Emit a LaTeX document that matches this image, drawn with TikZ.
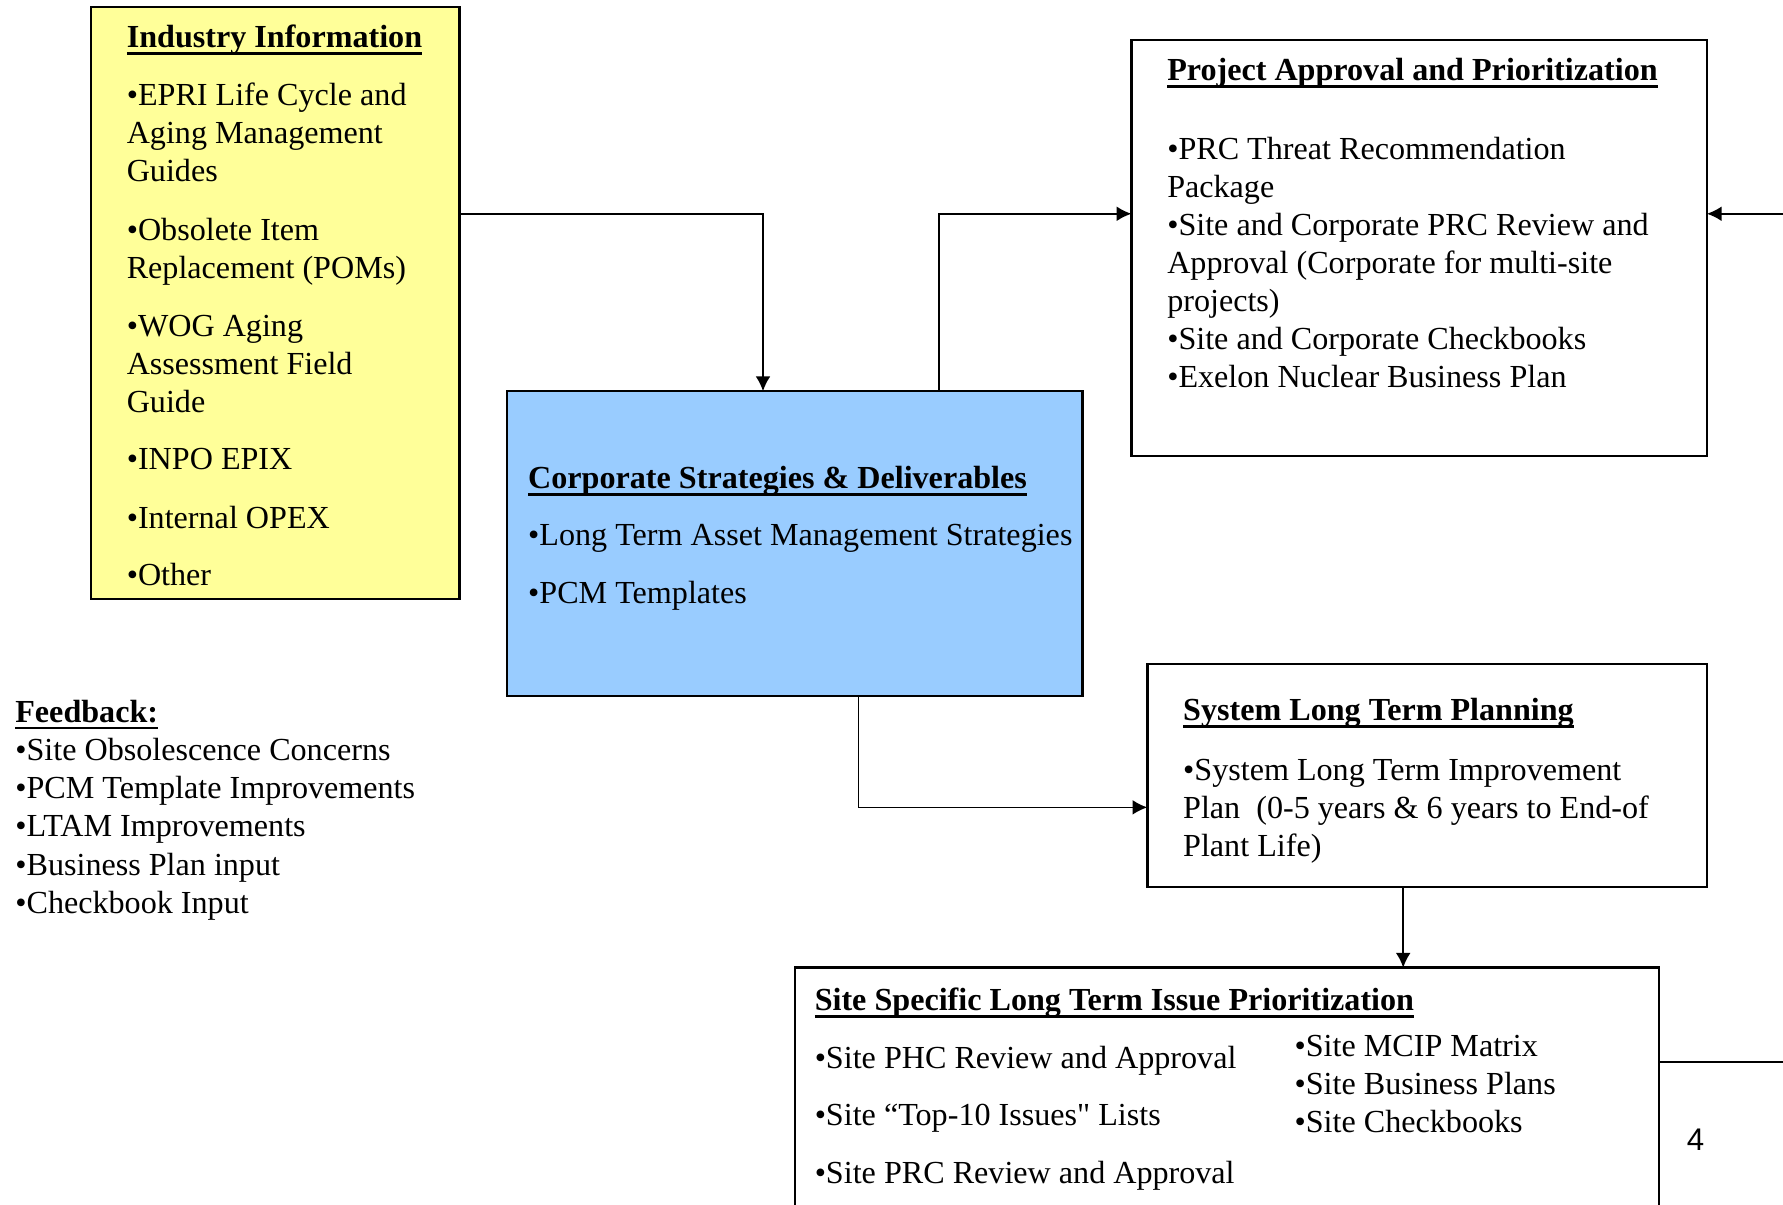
\documentclass[tikz,border=0pt]{standalone}
\usepackage{fontspec}
\setmainfont{Liberation Serif}[Ligatures=TeXOff]
\newfontfamily\pagefont{Liberation Sans}
\usepackage{tikz}
\usetikzlibrary{arrows.meta, positioning}

\definecolor{infoyellow}{HTML}{FFFF99}
\definecolor{corpblue}{HTML}{99CCFF}

% bold heading with a heavy underline
\newcommand{\headline}[1]{\setbox0\hbox{\textbf{#1}}\rlap{\rule[-2.4pt]{\wd0}{1pt}}\box0}

\begin{document}
\begin{tikzpicture}[
    x=0.4pt, y=-0.4pt,
    % Styles for boxes and text (multi-line text sits on its last baseline)
    box/.style={draw=black, line width=0.85pt, inner sep=0pt, outer sep=0pt},
    txt/.style={anchor=base west, align=left, inner sep=0pt,
        font=\fontsize{11.3}{13.4}\selectfont},
    link/.style={line width=0.6pt, draw=black},
    arrow/.style={link, -{Latex[length=5.2pt,width=5.2pt]}}
]
    \clip (0,0) rectangle (1568,1059);

    % --- Boxes ---
    \node[box, fill=infoyellow, minimum width=129.6pt, minimum height=208.4pt] (info) at (242,266.5) {};
    \node[box, fill=corpblue, minimum width=202.4pt, minimum height=107.2pt] (corp) at (699,478) {};
    \node[box, fill=white, minimum width=202.4pt, minimum height=146.4pt] (proj) at (1248,218) {};
    \node[box, fill=white, minimum width=196.8pt, minimum height=78.4pt] (sys) at (1255,682) {};
    \node[box, fill=white, minimum width=304pt, minimum height=99.6pt] (site) at (1079,975.5) {};

    % --- Industry Information ---
    \node[txt] (infot) at (111,42) {\headline{Industry Information}};
    \node[txt] (info1) at (111,160) {•EPRI Life Cycle and\\Aging Management\\Guides};
    \node[txt] (info2) at (111,245) {•Obsolete Item\\Replacement (POMs)};
    \node[txt] (info3) at (111,363) {•WOG Aging\\Assessment Field\\Guide};
    \node[txt] (info4) at (111,413) {•INPO EPIX};
    \node[txt] (info5) at (111,465) {•Internal OPEX};
    \node[txt] (info6) at (111,515) {•Other};

    % --- Corporate Strategies ---
    \node[txt] (corpt) at (464,430) {\headline{Corporate Strategies \& Deliverables}};
    \node[txt] (corp1) at (464,480) {•Long Term Asset Management Strategies};
    \node[txt] (corp2) at (464,531) {•PCM Templates};

    % --- Project Approval ---
    \node[txt] (projt) at (1026,71) {\headline{Project Approval and Prioritization}};
    \node[txt] (proj1) at (1026,341) {•PRC Threat Recommendation\\Package\\•Site and Corporate PRC Review and\\Approval (Corporate for multi-site\\projects)\\•Site and Corporate Checkbooks\\•Exelon Nuclear Business Plan};

    % --- System Long Term Planning ---
    \node[txt] (syst) at (1040,634) {\headline{System Long Term Planning}};
    \node[txt] (sys1) at (1040,753) {•System Long Term Improvement\\Plan\ \ (0-5 years \& 6 years to End-of\\Plant Life)};

    % --- Site Specific ---
    \node[txt] (sitet) at (716,889) {\headline{Site Specific Long Term Issue Prioritization}};
    \node[txt] (site1) at (716,940) {•Site PHC Review and Approval};
    \node[txt] (site2) at (716,990) {•Site “Top-10 Issues" Lists};
    \node[txt] (site3) at (716,1041) {•Site PRC Review and Approval};
    \node[txt] (site4) at (1138,996) {•Site MCIP Matrix\\•Site Business Plans\\•Site Checkbooks};

    % --- Feedback ---
    \node[txt] (fb) at (13,803) {\headline{Feedback:}\\•Site Obsolescence Concerns\\•PCM Template Improvements\\•LTAM Improvements\\•Business Plan input\\•Checkbook Input};

    % page number
    \node[txt, font=\pagefont\fontsize{11}{13}\selectfont] (pnum) at (1483,1012) {4};

    % --- Connectors ---
    \coordinate (bendA) at (671,188);
    \coordinate (bendB) at (826,188);
    \coordinate (bendC) at (755,710);
    \coordinate (bendD) at (1234,780);
    \coordinate (fbin) at (1568,188);
    \coordinate (fbout) at (1568,934);

    \draw[arrow] (info.east |- bendA) -| (corp.north -| bendA);
    \draw[arrow] (corp.north -| bendB) |- (proj.west |- bendB);
    \draw[arrow] (fbin) -- (proj.east |- fbin);
    \draw[arrow] (corp.south -| bendC) |- (sys.west |- bendC);
    \draw[arrow] (sys.south -| bendD) -- (site.north -| bendD);
    \draw[link] (site.east |- fbout) -- (fbout);

\end{tikzpicture}
\end{document}
